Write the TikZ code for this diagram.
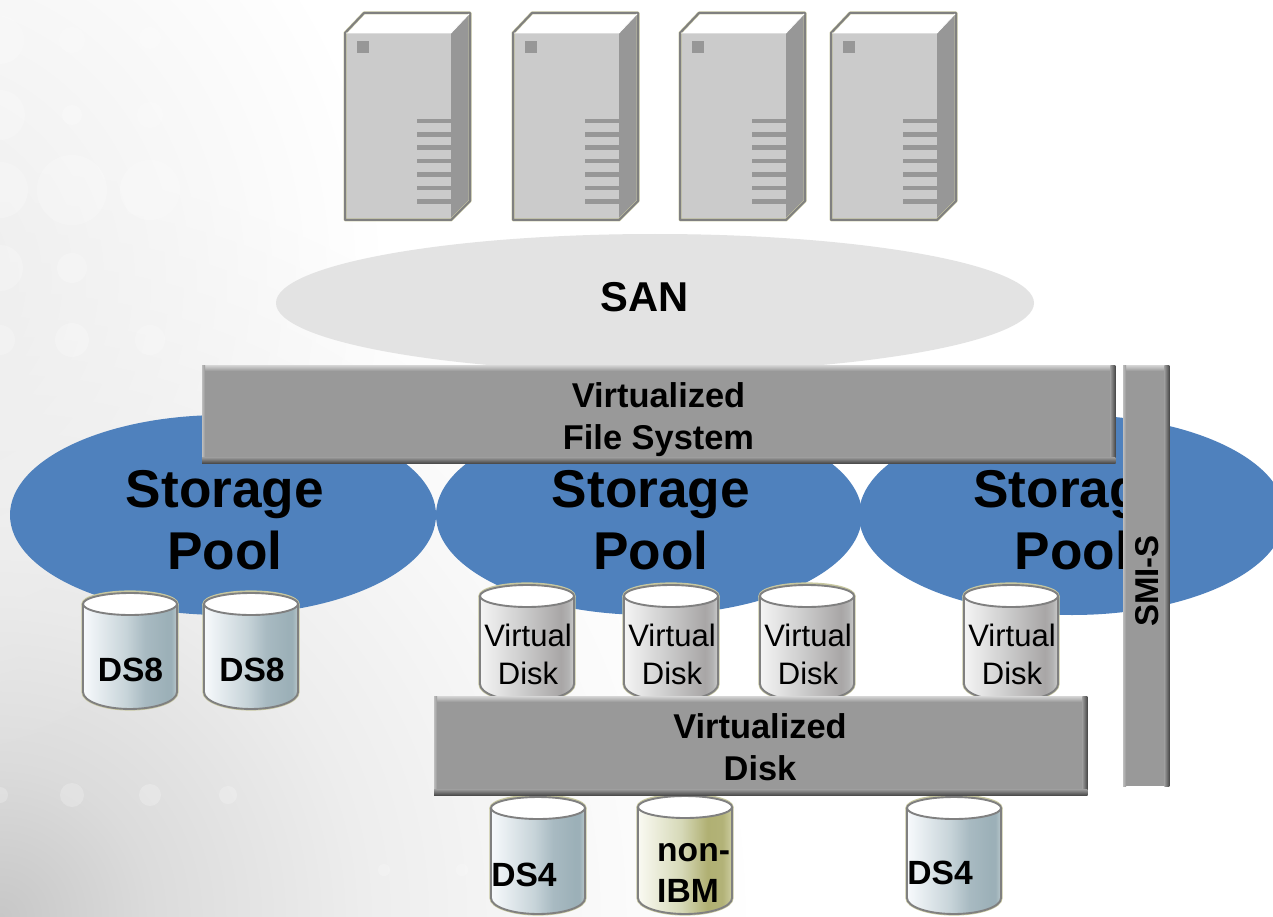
\documentclass[tikz,border=0pt]{standalone}
\usepackage{fontspec}
\setmainfont{Liberation Sans}
\usetikzlibrary{shapes.geometric,fadings}
\definecolor{poolblue}{HTML}{4F81BD}
\definecolor{sangray}{HTML}{E3E3E3}
\definecolor{barfill}{HTML}{999999}
\definecolor{srvfront}{HTML}{CBCBCB}
\definecolor{srvside}{HTML}{979797}
\definecolor{edgegray}{HTML}{808080}
\definecolor{edgeolive}{HTML}{C8C8A0}
\tikzfading[name=fadeglow,inner color=transparent!0,outer color=transparent!100]
\pgfdeclarehorizontalshading{dskbluex}{100bp}{rgb(0bp)=(.97,.98,.99);rgb(25bp)=(.97,.98,.99);rgb(48bp)=(.78,.83,.85);rgb(58bp)=(.66,.73,.76);rgb(70bp)=(.61,.69,.72);rgb(72bp)=(.61,.69,.72);rgb(75bp)=(.72,.78,.80);rgb(100bp)=(.72,.78,.80)}
\pgfdeclarehorizontalshading{dskgray}{100bp}{rgb(0bp)=(.96,.96,.96);rgb(25bp)=(.96,.96,.96);rgb(45bp)=(.82,.82,.82);rgb(68bp)=(.66,.65,.65);rgb(72bp)=(.70,.70,.70);rgb(75bp)=(.80,.80,.80);rgb(100bp)=(.80,.80,.80)}
\pgfdeclarehorizontalshading{dskolive}{100bp}{rgb(0bp)=(.98,.98,.95);rgb(25bp)=(.98,.98,.95);rgb(48bp)=(.84,.85,.72);rgb(62bp)=(.69,.69,.45);rgb(70bp)=(.70,.70,.47);rgb(75bp)=(.80,.80,.62);rgb(100bp)=(.80,.80,.62)}
\pgfdeclareradialshading{bgglow}{\pgfpointorigin}{rgb(0bp)=(.78,.78,.78);rgb(5bp)=(.86,.86,.86);rgb(12bp)=(.93,.93,.93);rgb(20bp)=(.98,.98,.98);rgb(25bp)=(1,1,1);rgb(100bp)=(1,1,1)}
\tikzset{
  x=1pt,y=-1pt,
  poolshape/.style={ellipse,fill=poolblue,minimum width=426pt,minimum height=200pt,inner sep=0pt},
  poolname/.style={font=\fontsize{53.2}{62}\selectfont\bfseries,align=center,inner sep=0pt,text=black},
  barlabel/.style={font=\fontsize{34.4}{42}\selectfont\bfseries,align=center,inner sep=0pt},
  disklabel/.style={font=\fontsize{33.6}{41}\selectfont\bfseries,align=left,inner sep=0pt},
  virtlabel/.style={font=\fontsize{31}{38}\selectfont,align=center,inner sep=0pt},
  barbox/.style={rectangle,fill=barfill,inner sep=0pt,anchor=north west},
  bokeh/.style={fill=white,opacity=.22},
}
% x0, ytop-centre, y side end, y bottom, shading, olive edge colour
\newcommand{\diskcyl}[6]{%
  \pgfmathsetmacro{\xa}{#1}\pgfmathsetmacro{\xb}{#1+94}\pgfmathsetmacro{\xc}{#1+47}%
  \pgfmathsetmacro{\xp}{#1+21}\pgfmathsetmacro{\xq}{#1+73}%
  \pgfmathsetmacro{\yq}{#3+0.55*(#4-#3)}%
  \def\diskbody{(\xa,#2) -- (\xa,#3) .. controls (\xa,\yq) and (\xp,#4) .. (\xc,#4) .. controls (\xq,#4) and (\xb,\yq) .. (\xb,#3) -- (\xb,#2)}%
  \draw[#6,line width=3.2pt] \diskbody;
  \draw[#6,line width=3.2pt] (\xc,#2) ellipse [x radius=47,y radius=12];
  \shade[shading=#5] \diskbody -- cycle;
  \draw[edgegray,line width=1.9pt] \diskbody;
  \filldraw[fill=white,draw=edgegray,line width=1.9pt] (\xc,#2) ellipse [x radius=47,y radius=11];
}
\newcommand{\serverbox}[1]{%
  \begin{scope}[shift={(#1,0)}]
    \fill[white] (0,33) -- (19,13) -- (125,13) -- (106,33) -- cycle;
    \fill[srvfront] (0,33) rectangle (106,220);
    \fill[srvside] (106,33) -- (125,13) -- (125,201) -- (106,220) -- cycle;
    \fill[srvside] (12,41) rectangle (24,53);
    \foreach \vy in {121,134.4,147.8,161.2,174.6,188,201.4}
      \fill[srvside] (72,\vy-2.3) rectangle (106,\vy+2.3);
    \draw[edgeolive,line width=3pt,line join=round] (0,33) -- (19,13) -- (125,13) -- (125,201) -- (106,220) -- (0,220) -- cycle;
    \draw[edgegray,line width=2pt,line join=round] (0,33) -- (19,13) -- (125,13) -- (125,201) -- (106,220) -- (0,220) -- cycle;
    \draw[white,line width=.8pt] (1,33) -- (106,33) -- (124,14);
  \end{scope}%
}
\begin{document}
\begin{tikzpicture}
\useasboundingbox (0,0) rectangle (1273,917);
\clip (0,0) rectangle (1273,917);
% background
\fill[white] (0,0) rectangle (1273,917);
\shade[shading=bgglow] (0,917) circle [radius=760];
\fill[black!7,path fading=fadeglow] (-80,280) ellipse [x radius=460,y radius=500];
\foreach \bx/\by/\br in {0/40/24,72/40/13,150/38/11,0/115/25,72/115/10,150/115/13,0/190/28,72/190/35,150/190/30,0/268/23,72/268/15,0/340/15,72/340/17,150/340/15,0/795/8,72/795/12,150/795/11,228/795/9,384/870/6,462/870/6}
  \fill[bokeh] (\bx,\by) circle [radius=\br];
% servers
\serverbox{345}\serverbox{513}\serverbox{680}\serverbox{831}
% SAN
\node[ellipse,fill=sangray,minimum width=758pt,minimum height=138pt,inner sep=0pt] (san) at (655,303) {};
\node[font=\fontsize{41.7}{48}\selectfont\bfseries,inner sep=0pt] (sanlabel) at (644.5,297) {SAN};
% storage pools
\node[poolshape] (pool1) at (223,515) {};
\node[poolshape] (pool2) at (649,515) {};
\node[poolshape] (pool3) at (1072,515) {};
\node[poolname] (pool1label) at (225,520) {Storage\\Pool};
\node[poolname] (pool2label) at (651,520) {Storage\\Pool};
\node[poolname] (pool3label) at (1072.5,520) {Storage\\Pool};
% DS8 disks
\diskcyl{83}{604}{692}{709}{dskbluex}{edgeolive}
\diskcyl{204}{604}{692}{709}{dskbluex}{edgeolive}
\node[disklabel] (ds8a) at (130.5,669.5) {DS8};
\node[disklabel] (ds8b) at (252,669.5) {DS8};
% virtual disks
\diskcyl{480}{596}{684}{701}{dskgray}{edgeolive}
\diskcyl{624}{596}{684}{701}{dskgray}{edgeolive}
\diskcyl{760}{596}{684}{701}{dskgray}{edgeolive}
\diskcyl{964}{596}{684}{701}{dskgray}{edgeolive}
\node[virtlabel] (vd1) at (528,654.5) {Virtual\\Disk};
\node[virtlabel] (vd2) at (672,654.5) {Virtual\\Disk};
\node[virtlabel] (vd3) at (808,654.5) {Virtual\\Disk};
\node[virtlabel] (vd4) at (1012,654.5) {Virtual\\Disk};
% lower disks
\diskcyl{491}{808}{898}{914}{dskbluex}{edgeolive}
\diskcyl{638}{807}{898}{914}{dskolive}{edgeolive}
\diskcyl{907}{808}{898}{914}{dskbluex}{edgeolive}
\node[disklabel] (ds4a) at (524,874.5) {DS4};
\node[disklabel,anchor=west] (nonibm) at (657,873) {non-\\IBM};
\node[disklabel] (ds4b) at (940,872.5) {DS4};
% bars
\node[barbox,minimum width=913pt,minimum height=98pt] (vfs) at (202,365) {};
\node[barbox,minimum width=46pt,minimum height=421pt] (smi) at (1123,365) {};
\node[barbox,minimum width=653pt,minimum height=99pt] (vdisk) at (434,696) {};
\foreach \barn in {vfs,vdisk,smi}{
  \shade[top color=barfill!40!white,bottom color=barfill] (\barn.north west) rectangle ([yshift=-6pt]\barn.north east);
  \shade[left color=barfill!65!white,right color=barfill] (\barn.north west) rectangle ([xshift=3pt]\barn.south west);
  \shade[left color=barfill,right color=black!72] ([xshift=-5pt]\barn.north east) rectangle (\barn.south east);
}
\foreach \barn in {vfs,vdisk}
  \shade[top color=barfill,bottom color=black!72] ([yshift=6pt]\barn.south west) rectangle (\barn.south east);
\node[barlabel] (vfslabel) at (658.5,420) {Virtualized\\File System};
\node[barlabel] (vdisklabel) at (760,747) {Virtualized\\Disk};
\node[font=\fontsize{33}{40}\selectfont\bfseries,inner sep=0pt,rotate=90] (smilabel) at (1147,581) {SMI-S};
\end{tikzpicture}
\end{document}
